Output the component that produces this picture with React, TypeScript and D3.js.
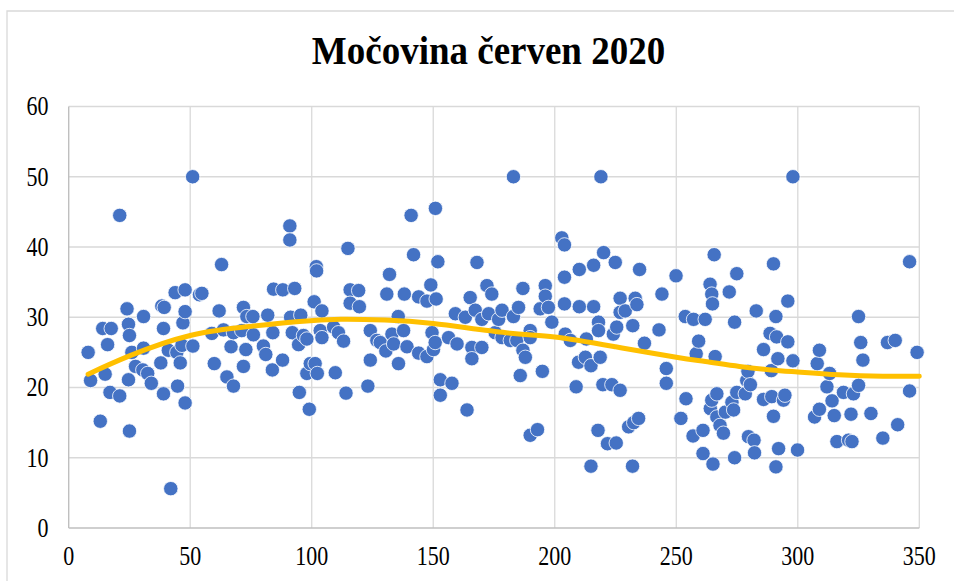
import React from 'react';
import * as d3 from 'd3';

const title = 'Močovina červen 2020';

const dayX = [
  8, 9, 13, 14, 15, 16, 17, 17.5, 21, 21, 24, 24.6, 24.6, 25, 25, 26, 27.5, 30.5, 30.8, 30.8,
  32.5, 34, 37.9, 38.3, 39, 39, 39.3, 41, 42, 43.8, 44.5, 44.8, 45.9, 46.6, 47, 47.9, 47.9, 47.9, 51, 51.1,
  53.8, 54.8, 58.9, 59.9, 61.9, 62.9, 63.7, 65.1, 66.8, 67.8, 67.8, 71.2, 71.9, 71.9, 72.9, 73.3, 75.8, 76, 80.1, 81.1,
  81.9, 83.8, 84, 84.3, 88, 88.1, 91, 91, 91.3, 92, 93, 94.6, 94.9, 95.5, 96.6, 98, 98, 99, 99.4, 101,
  101.4, 101.9, 102, 102.3, 103.5, 104.2, 104.2, 109, 109.7, 111, 113.1, 114.1, 114.9, 115.8, 115.8, 119.3, 119.6, 123.1, 124.1, 124.1,
  126.8, 128.2, 130.5, 130.9, 132, 133, 133.7, 135.6, 135.7, 137.8, 138.1, 139.2, 140.9, 141.9, 144, 144, 147.4, 147.4, 149, 149.5,
  150.1, 150.8, 150.9, 151.2, 151.9, 152.9, 152.9, 156.3, 157.7, 159.1, 159.8, 163.2, 163.9, 165.2, 165.9, 165.9, 167.3, 168, 170, 170,
  172.1, 172.8, 174.1, 175.5, 176.9, 178.3, 178.3, 181.7, 183, 183, 184.4, 185.1, 185.8, 186.9, 186.9, 187.9, 189.9, 189.9, 189.9, 192.9,
  194, 194.9, 196.1, 196.1, 197.4, 198.8, 202.9, 204, 204, 204, 204.3, 206.4, 208.8, 209.8, 210.1, 210.1, 212.6, 213, 214.9, 214.9,
  216, 216, 217.8, 218, 218, 218.7, 219, 219.8, 220.1, 221.7, 223.5, 224.1, 224.9, 225.3, 225.5, 226.9, 226.9, 226.9, 229, 230.4,
  232, 232.1, 232.5, 233.1, 233.8, 234.5, 234.9, 236.9, 242.9, 244.1, 245.9, 245.9, 249.9, 251.9, 253.7, 254, 256.9, 257.1, 258.2, 259.2,
  261, 261, 261.9, 263.9, 264, 264.6, 264.6, 264.9, 265.1, 265.6, 266, 266.7, 266.7, 268, 269.4, 270.2, 271.8, 272.9, 273.6, 274,
  274, 274.9, 274.9, 278.4, 279, 279.5, 279.7, 280.5, 282, 282.2, 282.9, 285.9, 285.9, 288.6, 289.1, 289.3, 290, 290, 291, 291,
  291.3, 291.8, 292.1, 294.1, 294.7, 295.9, 295.9, 298, 298, 299.9, 306.9, 308, 308.9, 308.9, 312, 313.1, 314.1, 315, 316.1, 318.8,
  320.9, 321.9, 322.3, 322.9, 325, 325, 325.9, 326.8, 330.1, 335, 336.9, 340.1, 341.1, 346, 346, 349.1,
];

const ureaY = [
  25.0, 21.0, 15.2, 28.4, 21.9, 26.1, 19.3, 28.4, 18.8, 44.5, 31.2, 29.0, 21.1, 27.4, 13.8, 25.0, 23.0, 22.5, 25.6, 30.1,
  22.0, 20.6, 23.5, 31.6, 28.4, 19.1, 31.4, 25.3, 5.6, 33.5, 25.0, 20.2, 23.5, 26.0, 29.2, 33.9, 30.8, 17.8, 50.0, 25.9,
  33.2, 33.4, 27.7, 23.4, 30.9, 37.5, 28.2, 21.5, 25.8, 27.8, 20.2, 28.1, 31.4, 23.0, 25.4, 30.1, 30.1, 27.5, 25.9, 24.7,
  30.3, 22.5, 27.8, 34.0, 23.9, 33.9, 43.0, 41.0, 30.0, 27.8, 34.1, 26.1, 19.3, 30.3, 27.4, 26.9, 22.0, 16.9, 23.4, 32.2,
  23.4, 37.2, 36.6, 22.0, 28.1, 27.1, 30.9, 28.6, 22.1, 27.8, 26.6, 19.2, 39.8, 33.9, 32.0, 33.8, 31.5, 20.2, 28.1, 23.9,
  26.7, 26.4, 25.2, 33.3, 36.1, 27.6, 26.2, 30.1, 23.4, 28.1, 33.3, 25.8, 44.5, 38.9, 32.9, 24.9, 32.3, 24.4, 34.6, 27.8,
  25.4, 26.4, 45.5, 32.6, 37.9, 21.1, 18.9, 27.1, 20.6, 30.5, 26.2, 30.0, 16.8, 32.8, 25.7, 24.1, 31.0, 37.8, 29.7, 25.7,
  34.5, 30.5, 33.3, 27.8, 29.7, 31.0, 27.1, 26.7, 30.1, 50.0, 26.7, 31.4, 21.7, 34.1, 25.3, 24.3, 28.1, 27.1, 13.2, 14.0,
  31.2, 22.3, 34.5, 33.0, 31.4, 29.3, 41.3, 40.3, 35.7, 31.9, 27.6, 26.7, 20.1, 23.6, 36.8, 31.5, 24.3, 26.9, 23.1, 8.8,
  37.4, 31.5, 13.9, 29.3, 28.1, 24.3, 50.0, 20.4, 39.2, 12.0, 20.4, 27.6, 37.8, 12.1, 28.6, 32.7, 30.7, 19.6, 30.9, 14.4,
  8.8, 28.8, 15.0, 32.7, 31.8, 15.6, 36.8, 26.3, 28.2, 33.3, 22.7, 20.6, 35.9, 15.6, 30.1, 18.4, 13.1, 29.7, 24.8, 26.6,
  13.9, 10.6, 29.7, 34.7, 17.0, 33.3, 18.2, 31.9, 9.1, 38.9, 24.4, 19.1, 15.8, 14.6, 13.5, 16.5, 33.6, 17.9, 16.8, 29.3,
  10.0, 36.2, 19.3, 19.1, 21.0, 22.3, 13.0, 20.4, 12.5, 10.7, 30.9, 25.4, 18.3, 27.7, 22.4, 18.7, 37.6, 15.9, 30.1, 8.7,
  27.2, 24.1, 11.3, 18.2, 18.9, 32.3, 26.5, 23.8, 50.0, 11.1, 15.8, 23.4, 25.3, 16.9, 20.1, 22.0, 18.1, 16.0, 12.3, 19.3,
  12.5, 16.2, 12.3, 19.1, 20.3, 30.1, 26.4, 23.9, 16.3, 12.8, 26.4, 26.7, 14.7, 37.9, 19.5, 25.0,
];

const trendX = [8, 25, 50, 75, 95, 112, 130, 150, 180, 200, 225, 250, 262, 276, 289, 300, 317, 335, 350];
const trendY = [21.9, 24.5, 27.4, 28.7, 29.4, 29.7, 29.6, 29.1, 27.8, 27.2, 25.8, 24.3, 23.7, 23.0, 22.5, 22.2, 21.8, 21.6, 21.6];

const xTicks = [0, 50, 100, 150, 200, 250, 300, 350];
const yTicks = [0, 10, 20, 30, 40, 50, 60];

const FONT = '"Liberation Serif", "Times New Roman", serif';

export default function App() {
  const W = 954;
  const H = 581;
  const x = d3.scaleLinear().domain([0, 350]).range([68.7, 919.3]);
  const y = d3.scaleLinear().domain([0, 60]).range([528, 106.5]);

  const trendPts: [number, number][] = trendX.map((v, i) => [v, trendY[i]]);
  const trendPath = d3
    .line<[number, number]>()
    .x((d) => x(d[0]))
    .y((d) => y(d[1]))
    .curve(d3.curveNatural)(trendPts) as string;

  const pts = dayX.map((v, i) => [v, ureaY[i]] as [number, number]);

  return (
    <svg
      width={W}
      height={H}
      viewBox={`0 0 ${W} ${H}`}
      style={{ position: 'absolute', left: 0, top: 0, background: '#fff' }}
    >
      <rect x={0} y={0} width={W} height={H} fill="#fff" />
      {/* chart area border */}
      <path d={`M7,${H + 2} L7,11 L${W + 2},11`} fill="none" stroke="#D9D9D9" strokeWidth={1.3} />

      {/* title */}
      <text
        transform="translate(488.5,64) scale(1,1.1)"
        textAnchor="middle"
        fontFamily={FONT}
        fontWeight="bold"
        fontSize={37}
        fill="#000"
      >
        {title}
      </text>

      {/* gridlines */}
      {yTicks
        .filter((t) => t > 0)
        .map((t) => (
          <line key={'gy' + t} x1={x(0)} x2={x(350)} y1={y(t)} y2={y(t)} stroke="#D9D9D9" strokeWidth={1.3} />
        ))}
      {xTicks
        .filter((t) => t > 0)
        .map((t) => (
          <line key={'gx' + t} x1={x(t)} x2={x(t)} y1={y(0)} y2={y(60)} stroke="#D9D9D9" strokeWidth={1.3} />
        ))}
      {/* axes */}
      <line x1={x(0)} x2={x(0)} y1={y(0)} y2={y(60)} stroke="#BFBFBF" strokeWidth={1.4} />
      <line x1={x(0)} x2={x(350)} y1={y(0)} y2={y(0)} stroke="#BFBFBF" strokeWidth={1.4} />

      {/* tick labels */}
      {yTicks.map((t) => (
        <text
          key={'ly' + t}
          transform={`translate(48.5,${y(t) + 8.9}) scale(1,1.2)`}
          textAnchor="end"
          fontFamily={FONT}
          fontSize={22}
          fill="#000"
        >
          {t}
        </text>
      ))}
      {xTicks.map((t) => (
        <text
          key={'lx' + t}
          transform={`translate(${x(t)},565) scale(1,1.2)`}
          textAnchor="middle"
          fontFamily={FONT}
          fontSize={22}
          fill="#000"
        >
          {t}
        </text>
      ))}

      {/* points */}
      {pts.map((p, i) => (
        <circle key={'p' + i} cx={x(p[0])} cy={y(p[1])} r={7.2} fill="#4472C4" stroke="#fff" strokeWidth={0.8} />
      ))}

      {/* polynomial trendline */}
      <path d={trendPath} fill="none" stroke="#FFC000" strokeWidth={5} strokeLinecap="round" />
    </svg>
  );
}
